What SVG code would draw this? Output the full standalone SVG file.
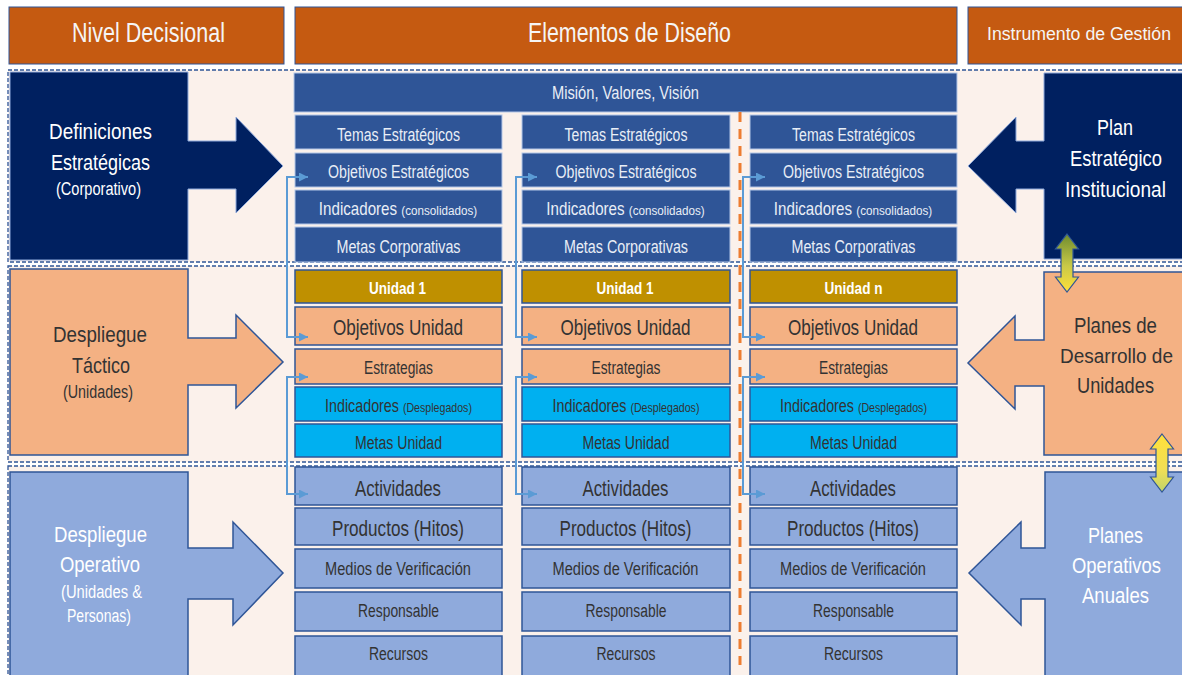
<svg xmlns="http://www.w3.org/2000/svg" width="1182" height="675" viewBox="0 0 1182 675">
<defs>
<style>
text{font-family:"Liberation Sans",Arial,sans-serif;text-anchor:middle}
.hdr{fill:#C55A11;stroke:#2F5597;stroke-width:1}
.hdrt{fill:#F5F5F5}
.band{fill:#FBF1EB;stroke:#2F5597;stroke-width:1.3;stroke-dasharray:4 2}
.b1{fill:#2F5597;stroke:#B4C7E7;stroke-width:1}
.b1t{fill:#E9EEF6;font-size:17.5px}
.un{fill:#BF9000;stroke:#2F5597;stroke-width:1.5}
.unt{fill:#FFFFFF;font-size:17px;font-weight:bold}
.ob{fill:#F4B183;stroke:#2F5597;stroke-width:1.5}
.cy{fill:#00B0F0;stroke:#2F5597;stroke-width:1.5}
.lb{fill:#8FAADC;stroke:#2F5597;stroke-width:1.5}
.dk{fill:#333333}
.wh{fill:#FFFFFF}
.big{font-size:22.5px}
.sub{font-size:18px}
.conn{fill:none;stroke:#5B9BD5;stroke-width:2}
</style>
<marker id="ah" viewBox="0 0 10 10" refX="10" refY="5" markerWidth="10" markerHeight="9" markerUnits="userSpaceOnUse" orient="auto-start-reverse"><path d="M0,0 L10,5 L0,10 z" fill="#5B9BD5"/></marker>
<linearGradient id="g1" x1="0" y1="0" x2="0" y2="1"><stop offset="0" stop-color="#6E8B2E"/><stop offset="0.55" stop-color="#C9C947"/><stop offset="1" stop-color="#FFE03A"/></linearGradient>
<linearGradient id="g2" x1="0" y1="0" x2="0" y2="1"><stop offset="0" stop-color="#FFE03A"/><stop offset="0.6" stop-color="#F2DF55"/><stop offset="1" stop-color="#BFD46A"/></linearGradient>
</defs>
<rect width="1182" height="675" fill="#FFFFFF"/>

<g id="headers">
<rect class="hdr" x="9" y="7" width="275" height="57"/>
<text class="hdrt" x="148.5" y="42" font-size="27" textLength="153" lengthAdjust="spacingAndGlyphs">Nivel Decisional</text>
<rect class="hdr" x="295" y="7" width="662" height="57"/>
<text class="hdrt" x="629.5" y="42" font-size="27" textLength="203" lengthAdjust="spacingAndGlyphs">Elementos de Diseño</text>
<rect class="hdr" x="968" y="7" width="220" height="57"/>
<text class="hdrt" x="1079" y="40" font-size="18" textLength="184" lengthAdjust="spacingAndGlyphs">Instrumento de Gestión</text>
</g>

<g id="bands">
<rect class="band" x="8" y="70" width="1185" height="192"/>
<rect class="band" x="8" y="266" width="1185" height="196"/>
<rect class="band" x="8" y="466" width="1185" height="215"/>
</g>

<g id="definiciones-estrategicas">
<polygon points="10,72 188,72 188,141 236,141 236,117 283,166 236,213 236,189 188,189 188,260 10,260" fill="#002060" stroke="#8FAADC" stroke-width="1"/>
<text class="big wh" x="100.5" y="139" textLength="103" lengthAdjust="spacingAndGlyphs">Definiciones</text>
<text class="big wh" x="100.5" y="170" textLength="99" lengthAdjust="spacingAndGlyphs">Estratégicas</text>
<text class="sub wh" x="98.5" y="195" textLength="85" lengthAdjust="spacingAndGlyphs">(Corporativo)</text>
</g>
<g id="despliegue-tactico">
<polygon points="10,269 188,269 188,338 236,338 236,315 283,362 236,408 236,385 188,385 188,455 10,455" fill="#F4B183" stroke="#2F5597" stroke-width="1.5"/>
<text class="big dk" x="100" y="342" textLength="94" lengthAdjust="spacingAndGlyphs">Despliegue</text>
<text class="big dk" x="101" y="373" textLength="58" lengthAdjust="spacingAndGlyphs">Táctico</text>
<text class="sub dk" x="98" y="398" textLength="70" lengthAdjust="spacingAndGlyphs">(Unidades)</text>
</g>
<g id="despliegue-operativo">
<polygon points="10,472 188,472 188,548 233,548 233,522 283,573 233,625 233,599 188,599 188,680 10,680" fill="#8FAADC" stroke="#2F5597" stroke-width="1.5"/>
<text class="big wh" x="100.5" y="542" textLength="93" lengthAdjust="spacingAndGlyphs">Despliegue</text>
<text class="big wh" x="100" y="572" textLength="80" lengthAdjust="spacingAndGlyphs">Operativo</text>
<text class="sub wh" x="101.5" y="598" textLength="81" lengthAdjust="spacingAndGlyphs">(Unidades &amp;</text>
<text class="sub wh" x="99" y="622" textLength="64" lengthAdjust="spacingAndGlyphs">Personas)</text>
</g>

<g id="plan-estrategico">
<polygon points="1190,73 1044,73 1044,141 1016,141 1016,117 968,166 1016,213 1016,189 1044,189 1044,259 1190,259" fill="#002060" stroke="#8FAADC" stroke-width="1"/>
<text class="big wh" x="1115" y="135" textLength="36" lengthAdjust="spacingAndGlyphs">Plan</text>
<text class="big wh" x="1116" y="166" textLength="92" lengthAdjust="spacingAndGlyphs">Estratégico</text>
<text class="big wh" x="1115.5" y="197" textLength="101" lengthAdjust="spacingAndGlyphs">Institucional</text>
</g>
<g id="planes-desarrollo">
<polygon points="1190,272 1044,272 1044,340 1015,340 1015,316 968,363 1015,409 1015,386 1044,386 1044,455 1190,455" fill="#F4B183" stroke="#2F5597" stroke-width="1.5"/>
<text class="big dk" x="1115.5" y="333" textLength="83" lengthAdjust="spacingAndGlyphs">Planes de</text>
<text class="dk" x="1116.5" y="363" font-size="20" textLength="113" lengthAdjust="spacingAndGlyphs">Desarrollo de</text>
<text class="big dk" x="1115.5" y="393" textLength="77" lengthAdjust="spacingAndGlyphs">Unidades</text>
</g>
<g id="planes-operativos">
<polygon points="1190,472 1045,472 1045,548 1021,548 1021,522 969,573 1021,625 1021,599 1045,599 1045,680 1190,680" fill="#8FAADC" stroke="#2F5597" stroke-width="1.5"/>
<text class="big wh" x="1115.5" y="543" textLength="55" lengthAdjust="spacingAndGlyphs">Planes</text>
<text class="big wh" x="1116.5" y="573" textLength="89" lengthAdjust="spacingAndGlyphs">Operativos</text>
<text class="big wh" x="1115.5" y="603" textLength="67" lengthAdjust="spacingAndGlyphs">Anuales</text>
</g>

<g id="mision">
<rect class="b1" x="294" y="73" width="663" height="39"/>
<text class="b1t" x="625.5" y="99" textLength="147" lengthAdjust="spacingAndGlyphs">Misión, Valores, Visión</text>
</g>

<g id="col1">
<rect class="b1" x="295" y="115" width="207" height="34"/><text class="b1t" x="398.5" y="141" textLength="123" lengthAdjust="spacingAndGlyphs">Temas Estratégicos</text>
<rect class="b1" x="295" y="153" width="207" height="34"/><text class="b1t" x="398.5" y="178" textLength="141" lengthAdjust="spacingAndGlyphs">Objetivos Estratégicos</text>
<rect class="b1" x="295" y="190" width="207" height="34"/><text class="b1t" transform="translate(398,215) scale(0.865,1)" x="0" y="0" font-size="17">Indicadores <tspan font-size="13.5">(consolidados)</tspan></text>
<rect class="b1" x="295" y="227" width="207" height="35"/><text class="b1t" x="398.5" y="253" textLength="124" lengthAdjust="spacingAndGlyphs">Metas Corporativas</text>
<rect class="un" x="295" y="270" width="207" height="33"/><text class="unt" x="397.5" y="294" textLength="57" lengthAdjust="spacingAndGlyphs">Unidad 1</text>
<rect class="ob" x="295" y="307" width="207" height="38"/><text class="dk" x="398" y="335" font-size="22" textLength="130" lengthAdjust="spacingAndGlyphs">Objetivos Unidad</text>
<rect class="ob" x="295" y="349" width="207" height="35"/><text class="dk" x="398.5" y="374" font-size="17.5" textLength="69" lengthAdjust="spacingAndGlyphs">Estrategias</text>
<rect class="cy" x="295" y="387" width="207" height="34"/><text class="dk" transform="translate(398.5,412) scale(0.818,1)" x="0" y="0" font-size="17.5">Indicadores <tspan font-size="13">(Desplegados)</tspan></text>
<rect class="cy" x="295" y="424" width="207" height="33"/><text class="dk" x="398.5" y="449" font-size="18" textLength="87" lengthAdjust="spacingAndGlyphs">Metas Unidad</text>
<rect class="lb" x="295" y="467" width="207" height="38"/><text class="dk" x="398" y="496" font-size="21.5" textLength="86" lengthAdjust="spacingAndGlyphs">Actividades</text>
<rect class="lb" x="295" y="508" width="207" height="37"/><text class="dk" x="398" y="536" font-size="21.5" textLength="132" lengthAdjust="spacingAndGlyphs">Productos (Hitos)</text>
<rect class="lb" x="295" y="549" width="207" height="39"/><text class="dk" x="398" y="575" font-size="18" textLength="146" lengthAdjust="spacingAndGlyphs">Medios de Verificación</text>
<rect class="lb" x="295" y="592" width="207" height="39"/><text class="dk" x="398.5" y="617" font-size="18" textLength="81" lengthAdjust="spacingAndGlyphs">Responsable</text>
<rect class="lb" x="295" y="636" width="207" height="45"/><text class="dk" x="398.5" y="660" font-size="18" textLength="59" lengthAdjust="spacingAndGlyphs">Recursos</text>
</g>

<g id="col2">
<rect class="b1" x="522" y="115" width="208" height="34"/><text class="b1t" x="626" y="141" textLength="123" lengthAdjust="spacingAndGlyphs">Temas Estratégicos</text>
<rect class="b1" x="522" y="153" width="208" height="34"/><text class="b1t" x="626" y="178" textLength="141" lengthAdjust="spacingAndGlyphs">Objetivos Estratégicos</text>
<rect class="b1" x="522" y="190" width="208" height="34"/><text class="b1t" transform="translate(625.5,215) scale(0.865,1)" x="0" y="0" font-size="17">Indicadores <tspan font-size="13.5">(consolidados)</tspan></text>
<rect class="b1" x="522" y="227" width="208" height="35"/><text class="b1t" x="626" y="253" textLength="124" lengthAdjust="spacingAndGlyphs">Metas Corporativas</text>
<rect class="un" x="522" y="270" width="208" height="33"/><text class="unt" x="625" y="294" textLength="57" lengthAdjust="spacingAndGlyphs">Unidad 1</text>
<rect class="ob" x="522" y="307" width="208" height="38"/><text class="dk" x="625.5" y="335" font-size="22" textLength="130" lengthAdjust="spacingAndGlyphs">Objetivos Unidad</text>
<rect class="ob" x="522" y="349" width="208" height="35"/><text class="dk" x="626" y="374" font-size="17.5" textLength="69" lengthAdjust="spacingAndGlyphs">Estrategias</text>
<rect class="cy" x="522" y="387" width="208" height="34"/><text class="dk" transform="translate(626,412) scale(0.818,1)" x="0" y="0" font-size="17.5">Indicadores <tspan font-size="13">(Desplegados)</tspan></text>
<rect class="cy" x="522" y="424" width="208" height="33"/><text class="dk" x="626" y="449" font-size="18" textLength="87" lengthAdjust="spacingAndGlyphs">Metas Unidad</text>
<rect class="lb" x="522" y="467" width="208" height="38"/><text class="dk" x="625.5" y="496" font-size="21.5" textLength="86" lengthAdjust="spacingAndGlyphs">Actividades</text>
<rect class="lb" x="522" y="508" width="208" height="37"/><text class="dk" x="625.5" y="536" font-size="21.5" textLength="132" lengthAdjust="spacingAndGlyphs">Productos (Hitos)</text>
<rect class="lb" x="522" y="549" width="208" height="39"/><text class="dk" x="625.5" y="575" font-size="18" textLength="146" lengthAdjust="spacingAndGlyphs">Medios de Verificación</text>
<rect class="lb" x="522" y="592" width="208" height="39"/><text class="dk" x="626" y="617" font-size="18" textLength="81" lengthAdjust="spacingAndGlyphs">Responsable</text>
<rect class="lb" x="522" y="636" width="208" height="45"/><text class="dk" x="626" y="660" font-size="18" textLength="59" lengthAdjust="spacingAndGlyphs">Recursos</text>
</g>

<g id="col3">
<rect class="b1" x="750" y="115" width="207" height="34"/><text class="b1t" x="853.5" y="141" textLength="123" lengthAdjust="spacingAndGlyphs">Temas Estratégicos</text>
<rect class="b1" x="750" y="153" width="207" height="34"/><text class="b1t" x="853.5" y="178" textLength="141" lengthAdjust="spacingAndGlyphs">Objetivos Estratégicos</text>
<rect class="b1" x="750" y="190" width="207" height="34"/><text class="b1t" transform="translate(853,215) scale(0.865,1)" x="0" y="0" font-size="17">Indicadores <tspan font-size="13.5">(consolidados)</tspan></text>
<rect class="b1" x="750" y="227" width="207" height="35"/><text class="b1t" x="853.5" y="253" textLength="124" lengthAdjust="spacingAndGlyphs">Metas Corporativas</text>
<rect class="un" x="750" y="270" width="207" height="33"/><text class="unt" x="853.5" y="294" textLength="58" lengthAdjust="spacingAndGlyphs">Unidad n</text>
<rect class="ob" x="750" y="307" width="207" height="38"/><text class="dk" x="853" y="335" font-size="22" textLength="130" lengthAdjust="spacingAndGlyphs">Objetivos Unidad</text>
<rect class="ob" x="750" y="349" width="207" height="35"/><text class="dk" x="853.5" y="374" font-size="17.5" textLength="69" lengthAdjust="spacingAndGlyphs">Estrategias</text>
<rect class="cy" x="750" y="387" width="207" height="34"/><text class="dk" transform="translate(853.5,412) scale(0.818,1)" x="0" y="0" font-size="17.5">Indicadores <tspan font-size="13">(Desplegados)</tspan></text>
<rect class="cy" x="750" y="424" width="207" height="33"/><text class="dk" x="853.5" y="449" font-size="18" textLength="87" lengthAdjust="spacingAndGlyphs">Metas Unidad</text>
<rect class="lb" x="750" y="467" width="207" height="38"/><text class="dk" x="853" y="496" font-size="21.5" textLength="86" lengthAdjust="spacingAndGlyphs">Actividades</text>
<rect class="lb" x="750" y="508" width="207" height="37"/><text class="dk" x="853" y="536" font-size="21.5" textLength="132" lengthAdjust="spacingAndGlyphs">Productos (Hitos)</text>
<rect class="lb" x="750" y="549" width="207" height="39"/><text class="dk" x="853" y="575" font-size="18" textLength="146" lengthAdjust="spacingAndGlyphs">Medios de Verificación</text>
<rect class="lb" x="750" y="592" width="207" height="39"/><text class="dk" x="853.5" y="617" font-size="18" textLength="81" lengthAdjust="spacingAndGlyphs">Responsable</text>
<rect class="lb" x="750" y="636" width="207" height="45"/><text class="dk" x="853.5" y="660" font-size="18" textLength="59" lengthAdjust="spacingAndGlyphs">Recursos</text>
</g>

<g id="connectors">
<line x1="740" y1="112" x2="740" y2="665" stroke="#ED7D31" stroke-width="3" stroke-dasharray="10 7"/>
<path class="conn" d="M308,177 H287 V337 H308" marker-start="url(#ah)" marker-end="url(#ah)"/>
<path class="conn" d="M308,377 H287 V494 H308" marker-start="url(#ah)" marker-end="url(#ah)"/>
<path class="conn" d="M537,177 H516 V337 H537" marker-start="url(#ah)" marker-end="url(#ah)"/>
<path class="conn" d="M537,377 H516 V494 H537" marker-start="url(#ah)" marker-end="url(#ah)"/>
<path class="conn" d="M765,177 H743 V337 H765" marker-start="url(#ah)" marker-end="url(#ah)"/>
<path class="conn" d="M765,377 H743 V494 H765" marker-start="url(#ah)" marker-end="url(#ah)"/>
<polygon points="1067,234 1078.5,249 1073,249 1073,277 1078.5,277 1067,292 1055.5,277 1061,277 1061,249 1055.5,249" fill="url(#g1)" stroke="#2F5597" stroke-width="1.2"/>
<polygon points="1162,434 1173.5,449 1168,449 1168,477 1173.5,477 1162,492 1150.5,477 1156,477 1156,449 1150.5,449" fill="url(#g2)" stroke="#2F5597" stroke-width="1.2"/>
</g>
</svg>
